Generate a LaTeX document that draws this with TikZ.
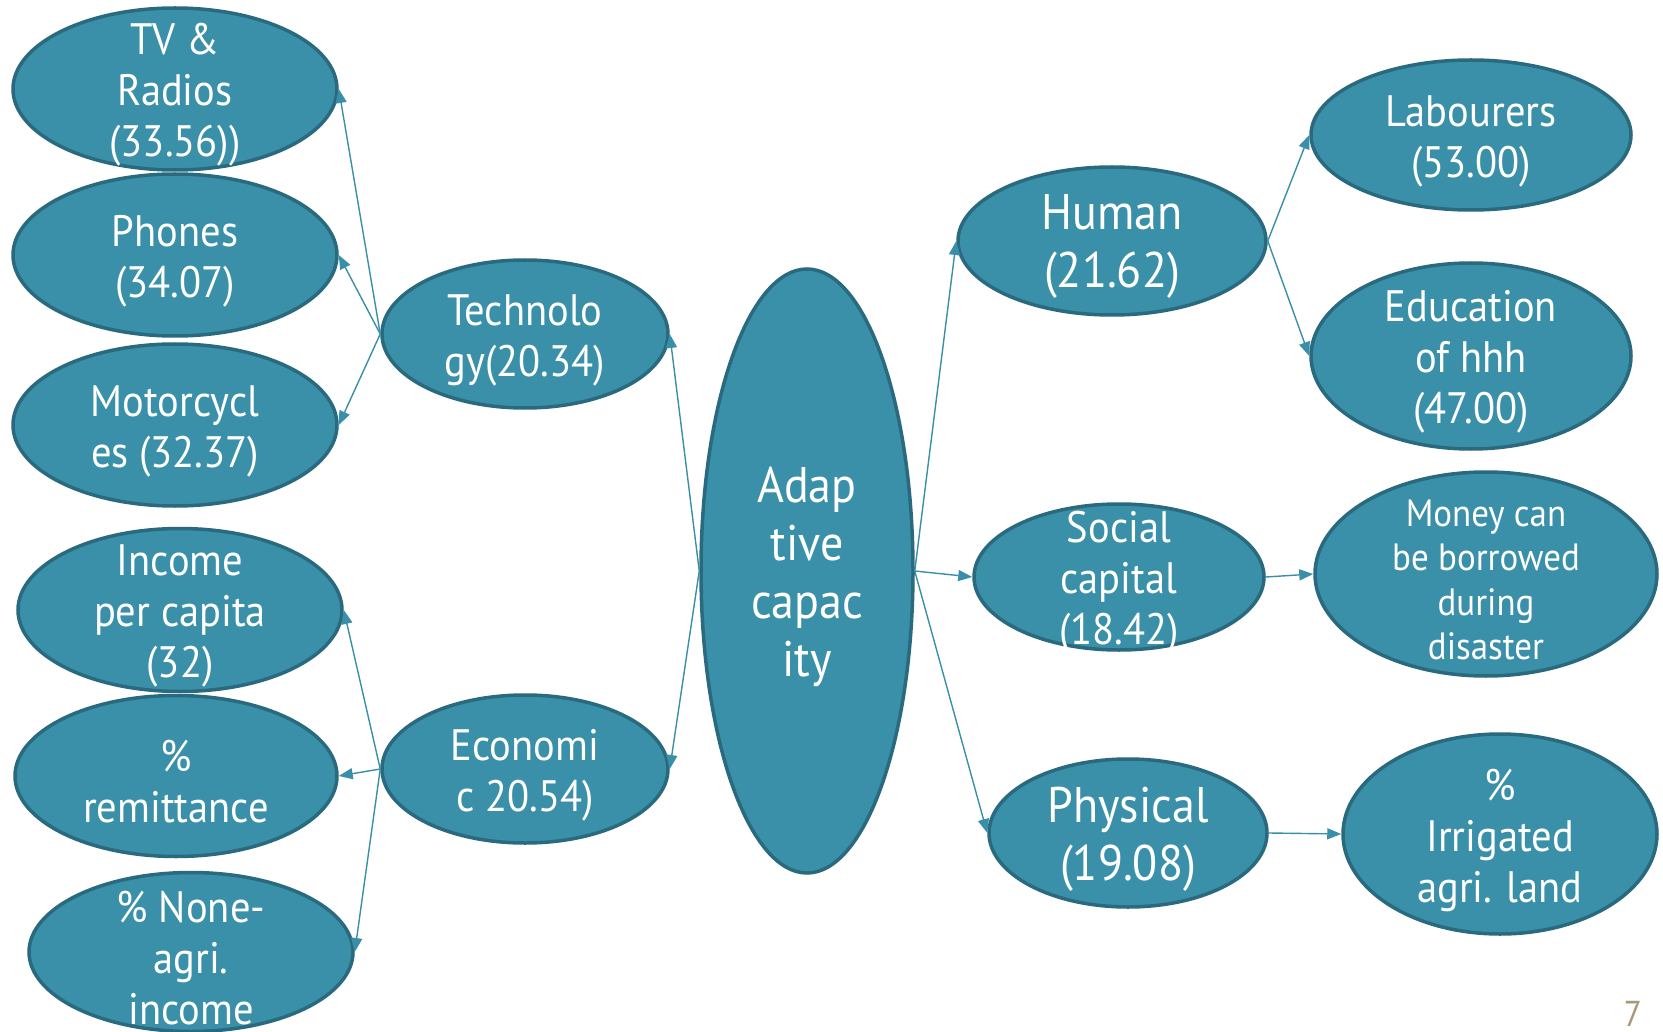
\documentclass[tikz,border=0pt]{standalone}
\usepackage{fontspec}
\setmainfont{PT Sans}[FakeStretch=0.92]
\usetikzlibrary{shapes.geometric,arrows.meta}
\definecolor{tealfill}{HTML}{3A90A8}
\definecolor{tealline}{HTML}{2A6A7E}
\definecolor{edgecol}{HTML}{3A8FA8}
\definecolor{pagenum}{HTML}{A89A78}
\begin{document}
\begin{tikzpicture}[x=1pt,y=-1pt,
  bubble/.style={ellipse, fill=tealfill, draw=tealline, line width=3.5pt, inner sep=0pt},
  btext/.style={text=white, align=center, inner sep=0pt, yshift=-6pt, font=\fontsize{44}{51}\selectfont},
  bigtext/.style={btext, font=\fontsize{50}{58}\selectfont},
  smalltext/.style={btext, font=\fontsize{38}{44.5}\selectfont},
  link/.style={draw=edgecol, line width=1.4pt, -{Triangle[length=14pt,width=11pt]}}]
\useasboundingbox (0,0) rectangle (1663,1032);

% technology indicators
\node[bubble, minimum width=324pt, minimum height=162pt,
  label={[btext]center:TV \&\\Radios\\(33.56))}] (tv) at (175,89) {};
\node[bubble, minimum width=324pt, minimum height=162pt,
  label={[btext]center:Phones\\(34.07)}] (phones) at (175,255) {};
\node[bubble, minimum width=324pt, minimum height=162pt,
  label={[btext]center:Motorcycl\\es (32.37)}] (moto) at (175,425) {};
\node[bubble, minimum width=286pt, minimum height=148pt,
  label={[btext]center:Technolo\\gy(20.34)}] (tech) at (525,334) {};

% economic indicators
\node[bubble, minimum width=324pt, minimum height=163pt,
  label={[btext]center:Income\\per capita\\(32)}] (income) at (180,610) {};
\node[bubble, minimum width=322pt, minimum height=161pt,
  label={[btext]center:\%\\remittance}] (remit) at (176,776) {};
\node[bubble, minimum width=324pt, minimum height=159pt,
  label={[btext]center:\% None-\\agri.\\income}] (nonagri) at (191,952) {};
\node[bubble, minimum width=286pt, minimum height=148pt,
  label={[btext]center:Economi\\c 20.54)}] (econ) at (525,769) {};

% central index
\node[bubble, minimum width=212pt, minimum height=604pt,
  label={[bigtext]center:Adap\\tive\\capac\\ity}] (adapt) at (807,571) {};

% right-hand components
\node[bubble, minimum width=308pt, minimum height=148pt,
  label={[bigtext]center:Human\\(21.62)}] (human) at (1112,241) {};
\node[bubble, minimum width=290pt, minimum height=146pt,
  label={[btext]center:Social\\capital\\(18.42)}] (social) at (1119,577) {};
\node[bubble, minimum width=278pt, minimum height=148pt,
  label={[bigtext]center:Physical\\(19.08)}] (phys) at (1128,833) {};

\node[bubble, minimum width=320pt, minimum height=150pt,
  label={[btext]center:Labourers\\(53.00)}] (labour) at (1471,135) {};
\node[bubble, minimum width=320pt, minimum height=186pt,
  label={[btext]center:Education\\of hhh\\(47.00)}] (educ) at (1471,356) {};
\node[bubble, minimum width=342pt, minimum height=204pt,
  label={[smalltext]center:Money can\\be borrowed\\during\\disaster}] (money) at (1486,574) {};
\node[bubble, minimum width=314pt, minimum height=200pt,
  label={[btext]center:\%\\Irrigated\\agri. land}] (irrig) at (1500,834) {};

% connectors
\draw[link] (tech.west) -- (tv.east);
\draw[link] (tech.west) -- (phones.east);
\draw[link] (tech.west) -- (moto.east);
\draw[link] (econ.west) -- (income.east);
\draw[link] (econ.west) -- (remit.east);
\draw[link] (econ.west) -- (nonagri.east);
\draw[link] (adapt.west) -- (tech.east);
\draw[link] (adapt.west) -- (econ.east);
\draw[link] (adapt.east) -- (human.west);
\draw[link] (adapt.east) -- (social.west);
\draw[link] (adapt.east) -- (phys.west);
\draw[link] (human.east) -- (labour.west);
\draw[link] (human.east) -- (educ.west);
\draw[link] (social.east) -- (money.west);
\draw[link] (phys.east) -- (irrig.west);

% slide number
\node[text=pagenum, font=\fontsize{36}{36}\selectfont] (pg) at (1633,1014) {7};
\end{tikzpicture}
\end{document}
